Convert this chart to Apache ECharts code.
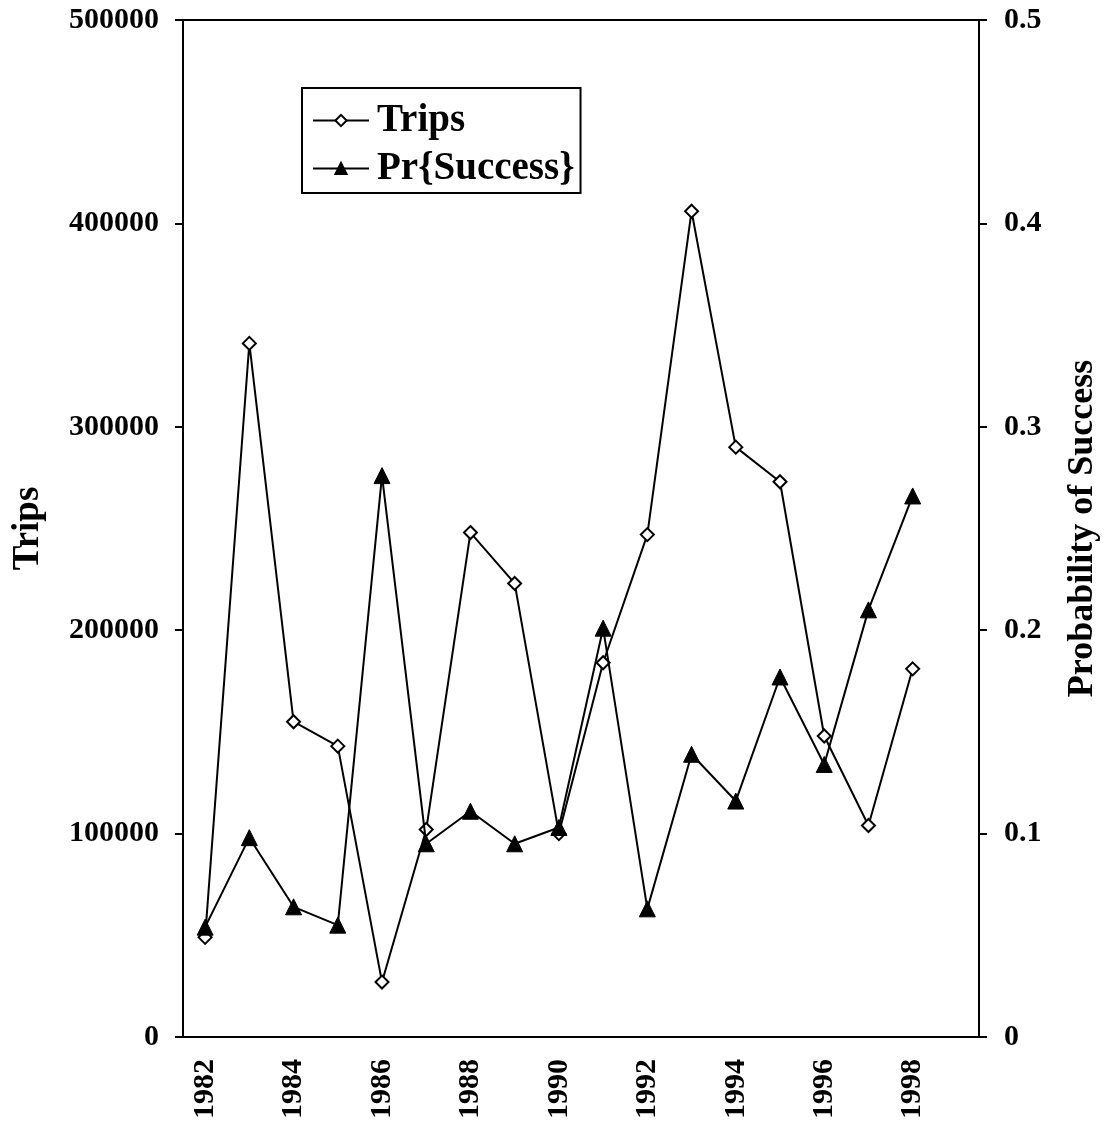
<!DOCTYPE html>
<html lang="en">
<head>
    <meta charset="utf-8">
    <title>Trips and Pr{Success}</title>
    <style>
        html, body { margin: 0; padding: 0; background: #fff; }
        #chart { width: 1105px; height: 1129px; }
    </style>
</head>
<body>
<div id="chart"></div>

<script src="https://cdn.jsdelivr.net/npm/echarts@6/dist/echarts.min.js"></script>
<script type="text/javascript">

    // years on the category axis (last slot is empty, as in the original)
    var years = ['1982', '1983', '1984', '1985', '1986', '1987', '1988', '1989', '1990',
                 '1991', '1992', '1993', '1994', '1995', '1996', '1997', '1998', '1999'];

    // trips per year
    var trips = [49000, 341000, 155000, 143000, 27000, 102000, 248000, 223000, 100000,
                 184000, 247000, 406000, 290000, 273000, 148000, 104000, 181000];

    // probability of success
    var prSuccess = [0.054, 0.098, 0.064, 0.055, 0.276, 0.095, 0.111, 0.095, 0.103,
                     0.201, 0.063, 0.139, 0.116, 0.177, 0.134, 0.210, 0.266];

    var tripsTicks = [0, 100000, 200000, 300000, 400000, 500000];
    var prTicks = [0, 0.1, 0.2, 0.3, 0.4, 0.5];

    var font = 'Liberation Serif, Times New Roman, serif';

    var myChart = echarts.init(document.getElementById('chart'));
    var option = {
        animation: false,
        backgroundColor: '#fff',
        textStyle: { fontFamily: font, color: '#000' },
        grid: {
            left: 183, right: 126, top: 20, bottom: 92,
            containLabel: false,
            outerBoundsMode: 'none',
            show: true,
            borderColor: '#000',
            borderWidth: 2,
            backgroundColor: 'transparent'
        },
        legend: {
            orient: 'vertical',
            left: 302,
            top: 88,
            padding: [13, 6, 5, 10],
            itemGap: 9,
            itemWidth: 56,
            itemHeight: 14,
            borderColor: '#000',
            borderWidth: 2,
            textStyle: { fontFamily: font, fontWeight: 'bold', fontSize: 39, color: '#000', padding: [0, 0, 0, 3] },
            data: ['Trips', 'Pr{Success}']
        },
        xAxis: {
            type: 'category',
            data: years,
            boundaryGap: true,
            axisLine: { lineStyle: { color: '#000', width: 2 } },
            axisTick: { interval: 0, length: 10, lineStyle: { color: '#000', width: 2 } },
            axisLabel: {
                interval: 1,
                rotate: 90,
                margin: 22,
                fontFamily: font,
                fontWeight: 'bold',
                fontSize: 30,
                color: '#000'
            },
            splitLine: { show: false }
        },
        yAxis: [
            {
                type: 'value',
                min: 0,
                max: 500000,
                interval: 100000,
                name: 'Trips',
                nameLocation: 'middle',
                nameRotate: 90,
                nameGap: 136,
                nameTextStyle: { fontFamily: font, fontWeight: 'bold', fontSize: 37, color: '#000' },
                axisLine: { show: true, lineStyle: { color: '#000', width: 2 } },
                axisTick: { show: true, length: 8, lineStyle: { color: '#000', width: 2 } },
                axisLabel: {
                    margin: 24,
                    fontFamily: font,
                    fontWeight: 'bold',
                    fontSize: 30,
                    color: '#000',
                    formatter: function (v) {
                        return tripsTicks.indexOf(v) >= 0 ? String(v) : '';
                    }
                },
                splitLine: { show: false }
            },
            {
                type: 'value',
                min: 0,
                max: 0.5,
                interval: 0.1,
                position: 'right',
                name: 'Probability of Success',
                nameLocation: 'middle',
                nameRotate: 90,
                nameGap: 86,
                nameTextStyle: { fontFamily: font, fontWeight: 'bold', fontSize: 36, color: '#000' },
                axisLine: { show: true, lineStyle: { color: '#000', width: 2 } },
                axisTick: { show: true, length: 8, lineStyle: { color: '#000', width: 2 } },
                axisLabel: {
                    margin: 25,
                    fontFamily: font,
                    fontWeight: 'bold',
                    fontSize: 30,
                    color: '#000',
                    formatter: function (v) {
                        var r = Math.round(v * 10) / 10;
                        return prTicks.indexOf(r) >= 0 ? (r === 0 ? '0' : String(r)) : '';
                    }
                },
                splitLine: { show: false }
            }
        ],
        series: [
            {
                name: 'Trips',
                type: 'line',
                yAxisIndex: 0,
                data: trips,
                symbol: 'diamond',
                symbolSize: 13,
                lineStyle: { color: '#000', width: 2 },
                itemStyle: { color: '#fff', borderColor: '#000', borderWidth: 2 },
                z: 2
            },
            {
                name: 'Pr{Success}',
                type: 'line',
                yAxisIndex: 1,
                data: prSuccess,
                symbol: 'triangle',
                symbolSize: 16,
                lineStyle: { color: '#000', width: 2 },
                itemStyle: { color: '#000', borderColor: '#000', borderWidth: 1 },
                z: 3
            }
        ]
    };
    myChart.setOption(option);
</script>
</body>
</html>
